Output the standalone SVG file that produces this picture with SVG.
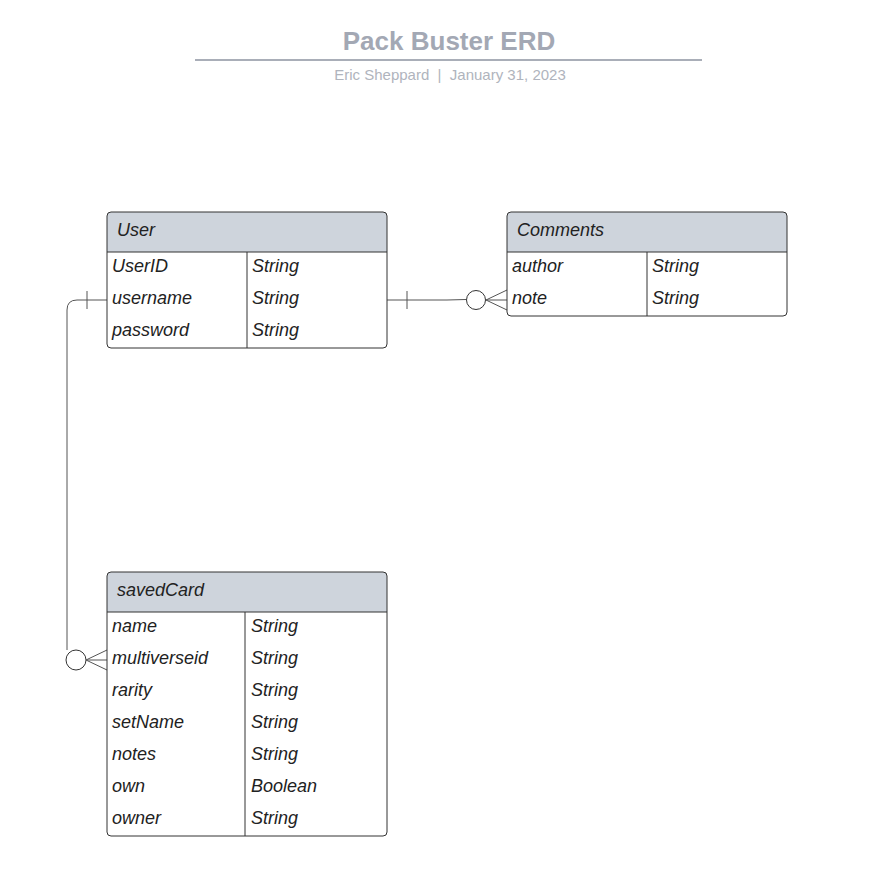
<svg xmlns="http://www.w3.org/2000/svg" width="896" height="896" viewBox="0 0 896 896">
<style>
.title{font-family:"Liberation Sans",Arial,sans-serif;font-size:26px;font-weight:bold;fill:#a3a8b4}
.sub{font-family:"Liberation Sans",Arial,sans-serif;font-size:15px;fill:#b0b4bd}
.hdr{fill:#ced4dc;stroke:none}
.box{fill:none;stroke:#333;stroke-width:1}
.t{font-family:"Liberation Sans",Arial,sans-serif;font-size:18px;font-style:italic;fill:#222}
.c{fill:none;stroke:#555;stroke-width:1}
.ci{fill:#fff;stroke:#333;stroke-width:1}
</style>
<rect width="896" height="896" fill="#fff"/>
<g id="title">
<text class="title" x="449" y="50" text-anchor="middle">Pack Buster ERD</text>
<line x1="195" y1="60" x2="702" y2="60" stroke="#a9aeb8" stroke-width="2"/>
<text class="sub" x="450" y="80" text-anchor="middle" xml:space="preserve">Eric Sheppard  |  January 31, 2023</text>
</g>
<g id="connectors">
<path class="c" d="M387 300 H447 L466 299.5"/>
<line class="c" x1="407" y1="291" x2="407" y2="309"/>
<circle class="ci" cx="476" cy="300" r="9.5"/>
<path class="c" d="M486 300 L507 290 M486 300 L507 300 M486 300 L507 310"/>
<path class="c" d="M107 300 H77 Q67 300 67 310 V650"/>
<line class="c" x1="87" y1="291" x2="87" y2="309"/>
<circle class="ci" cx="76" cy="660" r="10"/>
<path class="c" d="M86 660 L107 650 M86 660 L107 660 M86 660 L107 670"/>
</g>
<g id="User">
<path class="hdr" d="M107 252 V216 Q107 212 111 212 H383 Q387 212 387 216 V252 Z"/>
<rect class="box" x="107" y="212" width="280" height="136" rx="4"/>
<line class="box" x1="107" y1="252" x2="387" y2="252"/>
<line class="box" x1="247" y1="252" x2="247" y2="348"/>
<text class="t" x="117" y="236">User</text>
<text class="t" x="112" y="272">UserID</text><text class="t" x="252" y="272">String</text>
<text class="t" x="112" y="304">username</text><text class="t" x="252" y="304">String</text>
<text class="t" x="112" y="336">password</text><text class="t" x="252" y="336">String</text>
</g>
<g id="Comments">
<path class="hdr" d="M507 252 V216 Q507 212 511 212 H783 Q787 212 787 216 V252 Z"/>
<rect class="box" x="507" y="212" width="280" height="104" rx="4"/>
<line class="box" x1="507" y1="252" x2="787" y2="252"/>
<line class="box" x1="647" y1="252" x2="647" y2="316"/>
<text class="t" x="517" y="236">Comments</text>
<text class="t" x="512" y="272">author</text><text class="t" x="652" y="272">String</text>
<text class="t" x="512" y="304">note</text><text class="t" x="652" y="304">String</text>
</g>
<g id="savedCard">
<path class="hdr" d="M107 612 V576 Q107 572 111 572 H383 Q387 572 387 576 V612 Z"/>
<rect class="box" x="107" y="572" width="280" height="264" rx="4"/>
<line class="box" x1="107" y1="612" x2="387" y2="612"/>
<line class="box" x1="245" y1="612" x2="245" y2="836"/>
<text class="t" x="117" y="596">savedCard</text>
<text class="t" x="112" y="632">name</text><text class="t" x="251" y="632">String</text>
<text class="t" x="112" y="664">multiverseid</text><text class="t" x="251" y="664">String</text>
<text class="t" x="112" y="696">rarity</text><text class="t" x="251" y="696">String</text>
<text class="t" x="112" y="728">setName</text><text class="t" x="251" y="728">String</text>
<text class="t" x="112" y="760">notes</text><text class="t" x="251" y="760">String</text>
<text class="t" x="112" y="792">own</text><text class="t" x="251" y="792">Boolean</text>
<text class="t" x="112" y="824">owner</text><text class="t" x="251" y="824">String</text>
</g>
</svg>
